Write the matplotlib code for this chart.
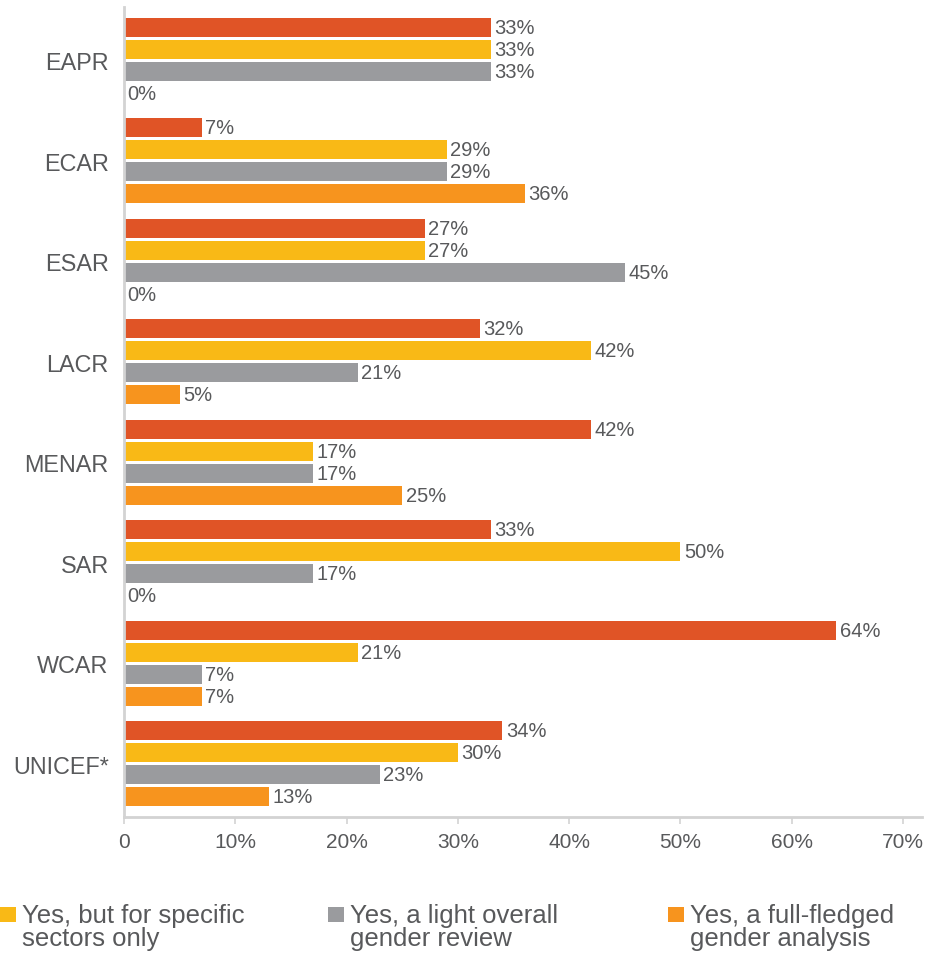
import os
os.environ.setdefault("MPLBACKEND", "Agg")
import matplotlib.pyplot as plt
from matplotlib.patches import Rectangle

regions = ["EAPR", "ECAR", "ESAR", "LACR", "MENAR", "SAR", "WCAR", "UNICEF*"]
no_analysis = [33, 7, 27, 32, 42, 33, 64, 34]
specific_sectors = [33, 29, 27, 42, 17, 50, 21, 30]
light_review = [33, 29, 45, 21, 17, 17, 7, 23]
full_analysis = [0, 36, 0, 5, 25, 0, 7, 13]
series = [no_analysis, specific_sectors, light_review, full_analysis]
colours = ["#E05426", "#F9B916", "#9A9B9E", "#F7941E"]
legend_labels = ["Yes, but for specific\nsectors only",
                 "Yes, a light overall\ngender review",
                 "Yes, a full-fledged\ngender analysis"]
x_ticks = [0, 10, 20, 30, 40, 50, 60, 70]
x_ticklabels = ["0", "10%", "20%", "30%", "40%", "50%", "60%", "70%"]

TXT = "#58595B"
AX = "#D3D3D3"
plt.rcParams["font.family"] = ["Liberation Sans", "DejaVu Sans"]

W, H = 936, 954
fig = plt.figure(figsize=(W / 100, H / 100), dpi=100)
ax = fig.add_axes([124 / W, (H - 818) / H, (922 - 124) / W, (818 - 8) / H])

slot = 0.22
bar_h = 0.19
for k, (vals, col) in enumerate(zip(series, colours)):
    ys = [i + (k - 1.5) * slot for i in range(len(regions))]
    ax.barh(ys, vals, height=bar_h, color=col, linewidth=0)
    for y, v in zip(ys, vals):
        ax.text(v + 0.3, y, f"{v}%", va="center", ha="left",
                fontsize=14.5, color=TXT)

ax.set_xlim(0, 71.7)
ax.set_ylim(7.53, -0.53)
ax.set_yticks(range(len(regions)))
ax.set_yticklabels(regions, fontsize=16.8, color=TXT)
ax.tick_params(axis="y", length=0, pad=11)
ax.set_xticks(x_ticks)
ax.set_xticklabels(x_ticklabels, fontsize=15, color=TXT)
ax.tick_params(axis="x", length=5, width=1.2, color=AX, pad=6)
for s in ["top", "right"]:
    ax.spines[s].set_visible(False)
for s in ["left", "bottom"]:
    ax.spines[s].set_color(AX)
    ax.spines[s].set_linewidth(2)

# legend (the first entry falls outside the picture)
leg_x = [0, 328, 668]
for lx, lab, col in zip(leg_x, legend_labels, colours[1:]):
    fig.patches.append(Rectangle((lx / W, (H - 923) / H), 16 / W, 15 / H,
                                 transform=fig.transFigure, color=col,
                                 linewidth=0))
    fig.text((lx + 22) / W, (H - 923) / H, lab.split("\n")[0], ha="left",
             va="baseline", fontsize=18.5, color=TXT)
    fig.text((lx + 22) / W, (H - 946) / H, lab.split("\n")[1], ha="left",
             va="baseline", fontsize=18.5, color=TXT)

fig.savefig("out.png", dpi=100)
